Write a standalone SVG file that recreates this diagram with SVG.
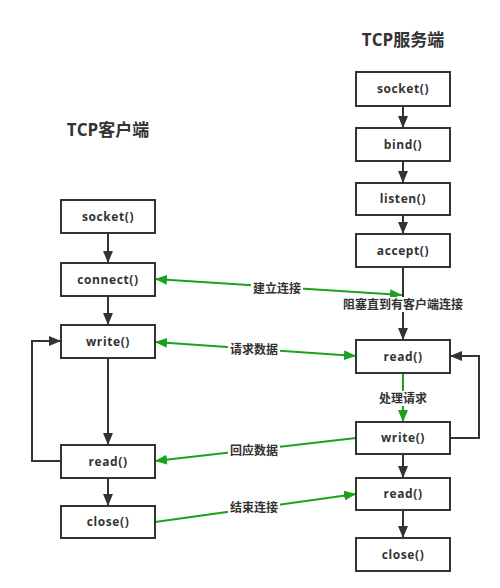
<svg xmlns="http://www.w3.org/2000/svg" width="500" height="588" viewBox="0 0 500 588">
<style>
.box{fill:#fff;stroke:#333;stroke-width:2}
.bt{font-family:"Open Sans","Noto Sans",sans-serif;font-weight:bold;font-size:12px;fill:#333;text-anchor:middle;letter-spacing:0.6px}
.title{font-family:"Open Sans","Noto Sans CJK SC",sans-serif;font-weight:bold;font-size:17px;fill:#333;text-anchor:middle}
.lbl{font-family:"Noto Sans CJK SC",sans-serif;font-weight:bold;font-size:12px;fill:#333;text-anchor:middle}
.dk{fill:none;stroke:#333;stroke-width:2}
.gr{fill:none;stroke:#1aa31a;stroke-width:2}
.lblbg{fill:#fff}
</style>
<defs>
<marker id="ad" markerUnits="userSpaceOnUse" markerWidth="12" markerHeight="10" refX="12" refY="5" orient="auto-start-reverse" viewBox="0 0 12 10"><path d="M0,0 L12,5 L0,10 z" fill="#333"/></marker>
<marker id="ag" markerUnits="userSpaceOnUse" markerWidth="12" markerHeight="10" refX="12" refY="5" orient="auto-start-reverse" viewBox="0 0 12 10"><path d="M0,0 L12,5 L0,10 z" fill="#1aa31a"/></marker>
</defs>
<rect width="500" height="588" fill="#fff"/>
<text class="title" x="403" y="46">TCP服务端</text>
<text class="title" x="108" y="136">TCP客户端</text>
<g id="connectors">
<line class="dk" x1="108" y1="233" x2="108" y2="263" marker-end="url(#ad)"/>
<line class="dk" x1="108" y1="296" x2="108" y2="325" marker-end="url(#ad)"/>
<line class="dk" x1="108" y1="358" x2="108" y2="445" marker-end="url(#ad)"/>
<line class="dk" x1="108" y1="478" x2="108" y2="506" marker-end="url(#ad)"/>
<polyline class="dk" points="61,461 32,461 32,341 61,341" marker-end="url(#ad)"/>
<line class="dk" x1="403" y1="106" x2="403" y2="128" marker-end="url(#ad)"/>
<line class="dk" x1="403" y1="161" x2="403" y2="183" marker-end="url(#ad)"/>
<line class="dk" x1="403" y1="215" x2="403" y2="234" marker-end="url(#ad)"/>
<line class="dk" x1="403" y1="267" x2="403" y2="340" marker-end="url(#ad)"/>
<line class="gr" x1="403" y1="373" x2="403" y2="422" marker-end="url(#ag)"/>
<polyline class="dk" points="450,438 479,438 479,356 450,356" marker-end="url(#ad)"/>
<line class="dk" x1="403" y1="454" x2="403" y2="478" marker-end="url(#ad)"/>
<line class="dk" x1="403" y1="510" x2="403" y2="538" marker-end="url(#ad)"/>
<line class="gr" x1="155" y1="279" x2="402" y2="295" marker-start="url(#ag)" marker-end="url(#ag)"/>
<line class="gr" x1="155" y1="342" x2="356" y2="356" marker-start="url(#ag)" marker-end="url(#ag)"/>
<line class="gr" x1="356" y1="438" x2="155" y2="461" marker-end="url(#ag)"/>
<line class="gr" x1="155" y1="522" x2="356" y2="494" marker-end="url(#ag)"/>
<rect class="lblbg" x="251" y="281" width="52" height="15"/>
<text class="lbl" x="277" y="293">建立连接</text>
<rect class="lblbg" x="340" y="297" width="126" height="15"/>
<text class="lbl" x="403" y="309">阻塞直到有客户端连接</text>
<rect class="lblbg" x="228" y="342" width="52" height="15"/>
<text class="lbl" x="254" y="354">请求数据</text>
<rect class="lblbg" x="377" y="391" width="52" height="15"/>
<text class="lbl" x="403" y="403">处理请求</text>
<rect class="lblbg" x="228" y="443" width="52" height="15"/>
<text class="lbl" x="254" y="455">回应数据</text>
<rect class="lblbg" x="228" y="500" width="52" height="15"/>
<text class="lbl" x="254" y="512">结束连接</text>
</g>
<g id="c-socket"><rect class="box" x="61" y="200" width="94" height="33"/><text class="bt" x="108" y="221">socket()</text></g>
<g id="c-connect"><rect class="box" x="61" y="263" width="94" height="33"/><text class="bt" x="108" y="284">connect()</text></g>
<g id="c-write"><rect class="box" x="61" y="325" width="94" height="33"/><text class="bt" x="108" y="346">write()</text></g>
<g id="c-read"><rect class="box" x="61" y="445" width="94" height="33"/><text class="bt" x="108" y="466">read()</text></g>
<g id="c-close"><rect class="box" x="61" y="506" width="94" height="32"/><text class="bt" x="108" y="526">close()</text></g>
<g id="s-socket"><rect class="box" x="356" y="72" width="94" height="34"/><text class="bt" x="403" y="93">socket()</text></g>
<g id="s-bind"><rect class="box" x="356" y="128" width="94" height="33"/><text class="bt" x="403" y="149">bind()</text></g>
<g id="s-listen"><rect class="box" x="356" y="183" width="94" height="32"/><text class="bt" x="403" y="203">listen()</text></g>
<g id="s-accept"><rect class="box" x="356" y="234" width="94" height="33"/><text class="bt" x="403" y="255">accept()</text></g>
<g id="s-read"><rect class="box" x="356" y="340" width="94" height="33"/><text class="bt" x="403" y="361">read()</text></g>
<g id="s-write"><rect class="box" x="356" y="422" width="94" height="32"/><text class="bt" x="403" y="442">write()</text></g>
<g id="s-read2"><rect class="box" x="356" y="478" width="94" height="32"/><text class="bt" x="403" y="498">read()</text></g>
<g id="s-close"><rect class="box" x="356" y="538" width="94" height="33"/><text class="bt" x="403" y="559">close()</text></g>
</svg>
